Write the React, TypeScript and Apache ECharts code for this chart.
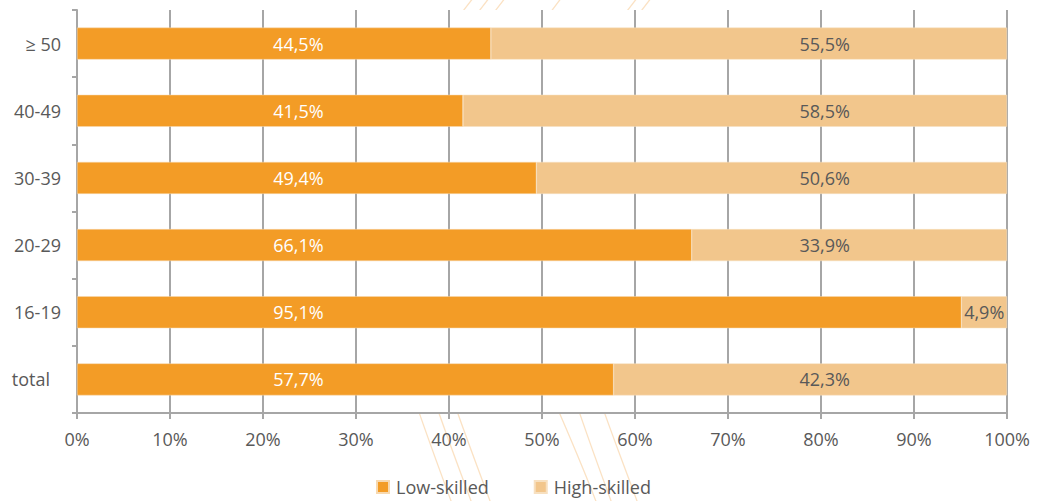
import React, { useEffect, useRef } from "react";
import * as echarts from "echarts";

const categories = ["total", "16-19", "20-29", "30-39", "40-49", "≥ 50"];
const lowSkilled = [57.7, 95.1, 66.1, 49.4, 41.5, 44.5];
const highSkilled = [42.3, 4.9, 33.9, 50.6, 58.5, 55.5];
const xTicks = [0, 10, 20, 30, 40, 50, 60, 70, 80, 90, 100];

const LOW_COLOR = "#F39C26";
const HIGH_COLOR = "#F2C68C";
const TEXT = "#595959";
const AXIS = "#A6A6A6";
const FONT = "Open Sans";
const FS = 18;

const fmt = (v: number) => v.toFixed(1).replace(".", ",") + "%";

export default function App() {
  const ref = useRef<HTMLDivElement>(null);
  useEffect(() => {
    document.body.style.margin = "0";
    const chart = echarts.init(ref.current!, null, { renderer: "svg" });
    const lowData = lowSkilled.map((v) => ({
      value: v,
      label: { position: [((23.8 / v) * 100).toFixed(2) + "%", "50%"] },
    }));
    const highData = highSkilled.map((v, i) => ({
      value: v,
      label: {
        position: [
          (v < 10 ? 50 : ((80.4 - lowSkilled[i]) / v) * 100).toFixed(2) + "%",
          "50%",
        ],
      },
    }));
    const curves = [
      [468, 418],
      [484, 438],
      [500, 457],
      [556, 563],
      [632, 578],
      [646, 604],
    ].map(([t, b]) => ({
      type: "bezierCurve",
      z: -10,
      silent: true,
      shape: {
        x1: t + 20,
        y1: -20,
        cpx1: t - 150,
        cpy1: 180,
        cpx2: b - 40,
        cpy2: 300,
        x2: b + 40,
        y2: 520,
      },
      style: { stroke: "#FBE2C4", lineWidth: 1.3, fill: "none" },
    }));
    chart.setOption({
      animation: false,
      textStyle: { fontFamily: FONT },
      grid: { left: 77, right: 31, top: 10, bottom: 88 },
      graphic: [
        ...curves,
        {
          type: "rect",
          z: -5,
          silent: true,
          shape: { x: 78, y: 10, width: 928, height: 402 },
          style: { fill: "#ffffff" },
        },
      ],
      legend: {
        top: 477,
        left: 376,
        padding: 0,
        itemWidth: 12,
        itemHeight: 12,
        itemGap: 45,
        icon: "rect",
        textStyle: {
          color: TEXT,
          fontSize: FS,
          fontFamily: FONT,
          lineHeight: 20,
          padding: [0, 0, 0, 2],
        },
        data: ["Low-skilled", "High-skilled"],
      },
      xAxis: {
        type: "value",
        min: 0,
        max: 100,
        interval: 10,
        axisLine: { show: true, lineStyle: { color: AXIS, width: 2 } },
        axisTick: { show: true, length: 6, lineStyle: { color: AXIS, width: 2 } },
        splitLine: { show: true, lineStyle: { color: AXIS, width: 2 } },
        axisLabel: {
          color: TEXT,
          fontSize: FS,
          margin: 17,
          formatter: (v: number) => (xTicks.includes(v) ? v + "%" : ""),
        },
      },
      yAxis: {
        type: "category",
        data: categories,
        axisLine: { show: true, lineStyle: { color: AXIS, width: 2 } },
        axisTick: { show: true, length: 5, lineStyle: { color: AXIS, width: 2 } },
        axisLabel: {
          color: TEXT,
          fontSize: FS,
          margin: 16,
          formatter: (v: string) => (v === "total" ? "{t|total}" : v),
          rich: { t: { color: TEXT, fontSize: FS, fontFamily: FONT, padding: [0, 11, 0, 0] } },
        },
      },
      series: [
        {
          name: "Low-skilled",
          type: "bar",
          stack: "s",
          barWidth: 32,
          data: lowData,
          itemStyle: { color: LOW_COLOR, borderColor: "#F7D9B0", borderWidth: 0.5 },
          label: {
            show: true,
            color: "#ffffff",
            fontSize: FS,
            fontFamily: FONT,
            align: "center",
            verticalAlign: "middle",
            formatter: (p: any) => fmt(p.value),
          },
        },
        {
          name: "High-skilled",
          type: "bar",
          stack: "s",
          barWidth: 32,
          data: highData,
          itemStyle: { color: HIGH_COLOR, borderColor: "#F7E0C0", borderWidth: 0.5 },
          label: {
            show: true,
            color: TEXT,
            fontSize: FS,
            fontFamily: FONT,
            align: "center",
            verticalAlign: "middle",
            formatter: (p: any) => fmt(p.value),
          },
        },
      ],
    });
    return () => chart.dispose();
  }, []);
  return (
    <div
      ref={ref}
      style={{ position: "fixed", left: 0, top: 0, width: 1038, height: 501, background: "#fff" }}
    />
  );
}
